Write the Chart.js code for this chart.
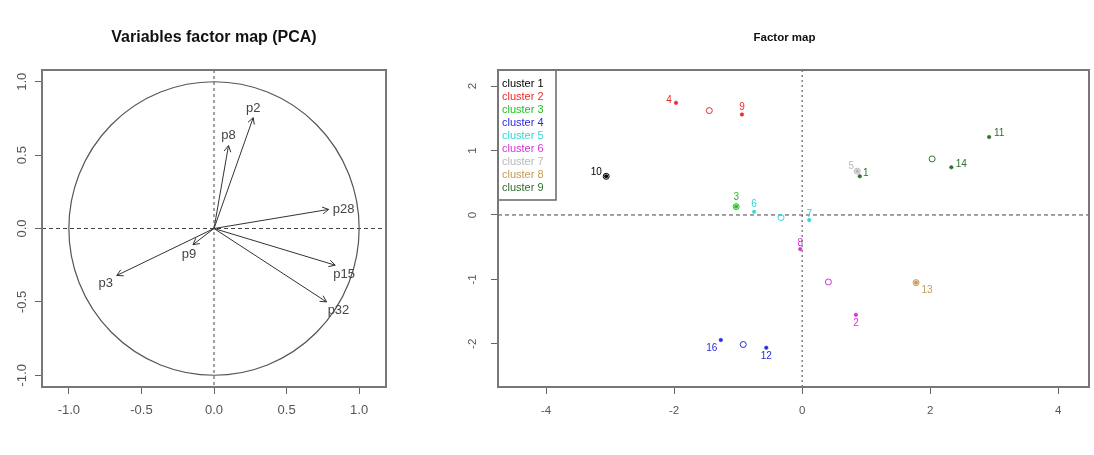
<!DOCTYPE html>
<html>
<head>
<meta charset="utf-8">
<script src="https://cdn.jsdelivr.net/npm/chart.js@4.4.1/dist/chart.umd.min.js"></script>
<style>
  html, body { margin: 0; padding: 0; background: #fff; }
  #wrap { position: relative; width: 1094px; height: 455px; }
  .box { position: absolute; top: 0; height: 455px; }
</style>
</head>
<body>
<div id="wrap">
  <div class="box" style="left:0;width:420px"><canvas id="pca"></canvas></div>
  <div class="box" style="left:420px;width:674px"><canvas id="fmap"></canvas></div>
</div>
<script>
// ---- left: variables factor map ----
var pcaVars = ['p2', 'p8', 'p28', 'p15', 'p32', 'p3', 'p9'];
var pcaDim1 = [0.27, 0.10, 0.79, 0.835, 0.775, -0.67, -0.145];
var pcaDim2 = [0.755, 0.565, 0.13, -0.25, -0.50, -0.32, -0.11];
var pcaTicks = [-1, -0.5, 0, 0.5, 1];

// ---- right: factor map (individuals by cluster) ----
var clusterNames = ['cluster 1', 'cluster 2', 'cluster 3', 'cluster 4', 'cluster 5',
                    'cluster 6', 'cluster 7', 'cluster 8', 'cluster 9'];
var indNames = ['10', '4', '9', '3', '6', '7', '8', '2', '16', '12', '5', '1', '13', '14', '11'];
var indX = [-3.06, -1.97, -0.94, -1.03, -0.75, 0.11, -0.03, 0.84, -1.27, -0.56, 0.86, 0.90, 1.78, 2.33, 2.92];
var indY = [0.60, 1.74, 1.56, 0.13, 0.05, -0.08, -0.53, -1.55, -1.94, -2.06, 0.68, 0.60, -1.05, 0.74, 1.21];
var indCluster = [1, 2, 2, 3, 5, 5, 6, 6, 4, 4, 7, 9, 8, 9, 9];
var centerX = [-3.06, -1.45, -1.03, -0.92, -0.33, 0.41, 0.86, 1.78, 2.03];
var centerY = [0.60, 1.62, 0.13, -2.01, -0.04, -1.04, 0.68, -1.05, 0.87];
var fmapXTicks = [-4, -2, 0, 2, 4];
var fmapYTicks = [-2, -1, 0, 1, 2];

// styles
var clusterColors = ['#000000', '#ee2a2a', '#22c022', '#2a2ae0', '#33d6d6',
                     '#d633d6', '#b8b8b8', '#c49a55', '#2f6f2f'];
var pcaNudge = [[0, -9], [0, -10], [15, 0], [9, 9], [12, 9], [-11, 8], [-4, 10]];
var indNudge = [[-10, -4], [-7, -3], [0, -7], [0, -9], [0, -7], [0, -6], [0, -6], [0, 8],
                [-9, 8], [0, 9], [-6, -5], [6, -3], [11, 8], [10, -3], [10, -4]];

var FONT = "'Liberation Sans', Arial, sans-serif";
Chart.defaults.font.family = FONT;

function drawFrame(chart, title, o) {
  var ctx = chart.ctx, a = chart.chartArea, ys = chart.scales.y;
  ctx.save();
  ctx.strokeStyle = '#777';
  ctx.lineWidth = 2;
  ctx.strokeRect(a.left, a.top, a.right - a.left, a.bottom - a.top);
  // rotated y tick labels like R
  ctx.fillStyle = '#555';
  ctx.font = o.tickSize + 'px ' + FONT;
  ctx.textAlign = 'center';
  ctx.textBaseline = 'middle';
  ys.ticks.forEach(function (t) {
    ctx.save();
    ctx.translate(a.left - o.yOff, ys.getPixelForValue(t.value));
    ctx.rotate(-Math.PI / 2);
    ctx.fillText(t.label, 0, 0);
    ctx.restore();
  });
  ctx.fillStyle = '#111';
  ctx.font = 'bold ' + o.titleSize + 'px ' + FONT;
  ctx.fillText(title, (a.left + a.right) / 2 - o.shift, 38);
  ctx.restore();
}

function zeroLines(chart, dashV, dashH) {
  var ctx = chart.ctx, a = chart.chartArea, x = chart.scales.x, y = chart.scales.y;
  ctx.save();
  ctx.strokeStyle = '#444';
  ctx.lineWidth = 1;
  ctx.setLineDash(dashV);
  ctx.beginPath();
  ctx.moveTo(x.getPixelForValue(0), a.top);
  ctx.lineTo(x.getPixelForValue(0), a.bottom);
  ctx.stroke();
  ctx.setLineDash(dashH);
  ctx.beginPath();
  ctx.moveTo(a.left, y.getPixelForValue(0));
  ctx.lineTo(a.right, y.getPixelForValue(0));
  ctx.stroke();
  ctx.restore();
}

function axes(xr, yr, xt, yt, yw, size, pad, fmt) {
  return {
    x: {
      type: 'linear', min: xr[0], max: xr[1], bounds: 'data',
      afterBuildTicks: function (s) { s.ticks = xt.map(function (v) { return { value: v }; }); },
      afterFit: function (s) { s.height = 68; },
      grid: { drawOnChartArea: false, drawTicks: true, tickLength: 7, color: '#666' },
      border: { display: false },
      ticks: { padding: pad, color: '#555', font: { size: size }, maxRotation: 0, callback: fmt }
    },
    y: {
      type: 'linear', min: yr[0], max: yr[1], bounds: 'data',
      afterBuildTicks: function (s) { s.ticks = yt.map(function (v) { return { value: v }; }); },
      afterFit: function (s) { s.width = yw; },
      grid: { drawOnChartArea: false, drawTicks: true, tickLength: 7, color: '#666' },
      border: { display: false },
      ticks: { display: false, callback: fmt }
    }
  };
}

// ---------- left chart ----------
var pcaSets = pcaVars.map(function (n, i) {
  return {
    label: n,
    data: [{ x: 0, y: 0 }, { x: pcaDim1[i], y: pcaDim2[i] }],
    showLine: true, borderColor: '#333', borderWidth: 1, pointRadius: 0
  };
});

var pcaDecor = {
  id: 'pcaDecor',
  beforeDatasetsDraw: function (chart) {
    var ctx = chart.ctx, x = chart.scales.x, y = chart.scales.y;
    zeroLines(chart, [3, 3], [4, 3]);
    ctx.save();
    ctx.strokeStyle = '#555';
    ctx.lineWidth = 1.2;
    ctx.beginPath();
    ctx.ellipse(x.getPixelForValue(0), y.getPixelForValue(0),
      x.getPixelForValue(1) - x.getPixelForValue(0),
      y.getPixelForValue(0) - y.getPixelForValue(1), 0, 0, Math.PI * 2);
    ctx.stroke();
    ctx.restore();
  },
  afterDatasetsDraw: function (chart) {
    var ctx = chart.ctx, x = chart.scales.x, y = chart.scales.y;
    ctx.save();
    ctx.strokeStyle = '#333';
    ctx.lineWidth = 1;
    ctx.fillStyle = '#444';
    ctx.font = '13px ' + FONT;
    ctx.textAlign = 'center';
    ctx.textBaseline = 'middle';
    pcaVars.forEach(function (n, i) {
      var x0 = x.getPixelForValue(0), y0 = y.getPixelForValue(0);
      var x1 = x.getPixelForValue(pcaDim1[i]), y1 = y.getPixelForValue(pcaDim2[i]);
      var ang = Math.atan2(y1 - y0, x1 - x0), len = 7;
      ctx.beginPath();
      ctx.moveTo(x1 - len * Math.cos(ang - 0.5), y1 - len * Math.sin(ang - 0.5));
      ctx.lineTo(x1, y1);
      ctx.lineTo(x1 - len * Math.cos(ang + 0.5), y1 - len * Math.sin(ang + 0.5));
      ctx.stroke();
      ctx.fillText(n, x1 + pcaNudge[i][0], y1 + pcaNudge[i][1]);
    });
    ctx.restore();
  },
  afterDraw: function (chart) {
    drawFrame(chart, 'Variables factor map (PCA)', { yOff: 20, tickSize: 13, titleSize: 16, shift: 0 });
  }
};

new Chart(document.getElementById('pca'), {
  type: 'scatter',
  data: { datasets: pcaSets },
  options: {
    responsive: true, maintainAspectRatio: false, animation: false,
    layout: { padding: { top: 70, right: 34, bottom: 0, left: 0 } },
    plugins: { legend: { display: false }, tooltip: { enabled: false } },
    scales: axes([-1.185, 1.185], [-1.08, 1.08], pcaTicks, pcaTicks, 42, 13, 9,
      function (v) { return Number(v).toFixed(1); })
  },
  plugins: [pcaDecor]
});

// ---------- right chart ----------
var fmapSets = clusterNames.map(function (n, k) {
  var pts = [];
  indNames.forEach(function (nm, i) {
    if (indCluster[i] === k + 1) pts.push({ x: indX[i], y: indY[i] });
  });
  return {
    label: n, data: pts, pointRadius: 1.8, pointStyle: 'circle',
    backgroundColor: clusterColors[k], borderColor: clusterColors[k], borderWidth: 0.5
  };
});
fmapSets.push({
  label: 'centres',
  data: centerX.map(function (v, k) { return { x: v, y: centerY[k] }; }),
  pointRadius: 3, pointStyle: 'circle', backgroundColor: 'rgba(0,0,0,0)',
  borderColor: clusterColors, borderWidth: 1
});

var fmapDecor = {
  id: 'fmapDecor',
  beforeDatasetsDraw: function (chart) { zeroLines(chart, [2, 3], [4, 3]); },
  afterDatasetsDraw: function (chart) {
    var ctx = chart.ctx, a = chart.chartArea, x = chart.scales.x, y = chart.scales.y;
    ctx.save();
    ctx.font = '10px ' + FONT;
    ctx.textAlign = 'center';
    ctx.textBaseline = 'middle';
    indNames.forEach(function (n, i) {
      ctx.fillStyle = clusterColors[indCluster[i] - 1];
      ctx.fillText(n, x.getPixelForValue(indX[i]) + indNudge[i][0], y.getPixelForValue(indY[i]) + indNudge[i][1]);
    });
    // legend box
    ctx.fillStyle = '#fff';
    ctx.fillRect(a.left, a.top, 58, 130);
    ctx.strokeStyle = '#666';
    ctx.lineWidth = 1.5;
    ctx.strokeRect(a.left, a.top, 58, 130);
    ctx.textAlign = 'left';
    ctx.font = '11px ' + FONT;
    clusterNames.forEach(function (n, k) {
      ctx.fillStyle = clusterColors[k];
      ctx.fillText(n, a.left + 4, a.top + 14 + k * 13);
    });
    ctx.restore();
  },
  afterDraw: function (chart) {
    drawFrame(chart, 'Factor map', { yOff: 25, tickSize: 11.5, titleSize: 11.5, shift: 9 });
  }
};

new Chart(document.getElementById('fmap'), {
  type: 'scatter',
  data: { datasets: fmapSets },
  options: {
    responsive: true, maintainAspectRatio: false, animation: false,
    layout: { padding: { top: 70, right: 4, bottom: 0, left: 0 } },
    plugins: { legend: { display: false }, tooltip: { enabled: false } },
    scales: axes([-4.75, 4.48], [-2.67, 2.25], fmapXTicks, fmapYTicks, 78, 11.5, 10,
      function (v) { return String(v); })
  },
  plugins: [fmapDecor]
});
</script>
</body>
</html>
